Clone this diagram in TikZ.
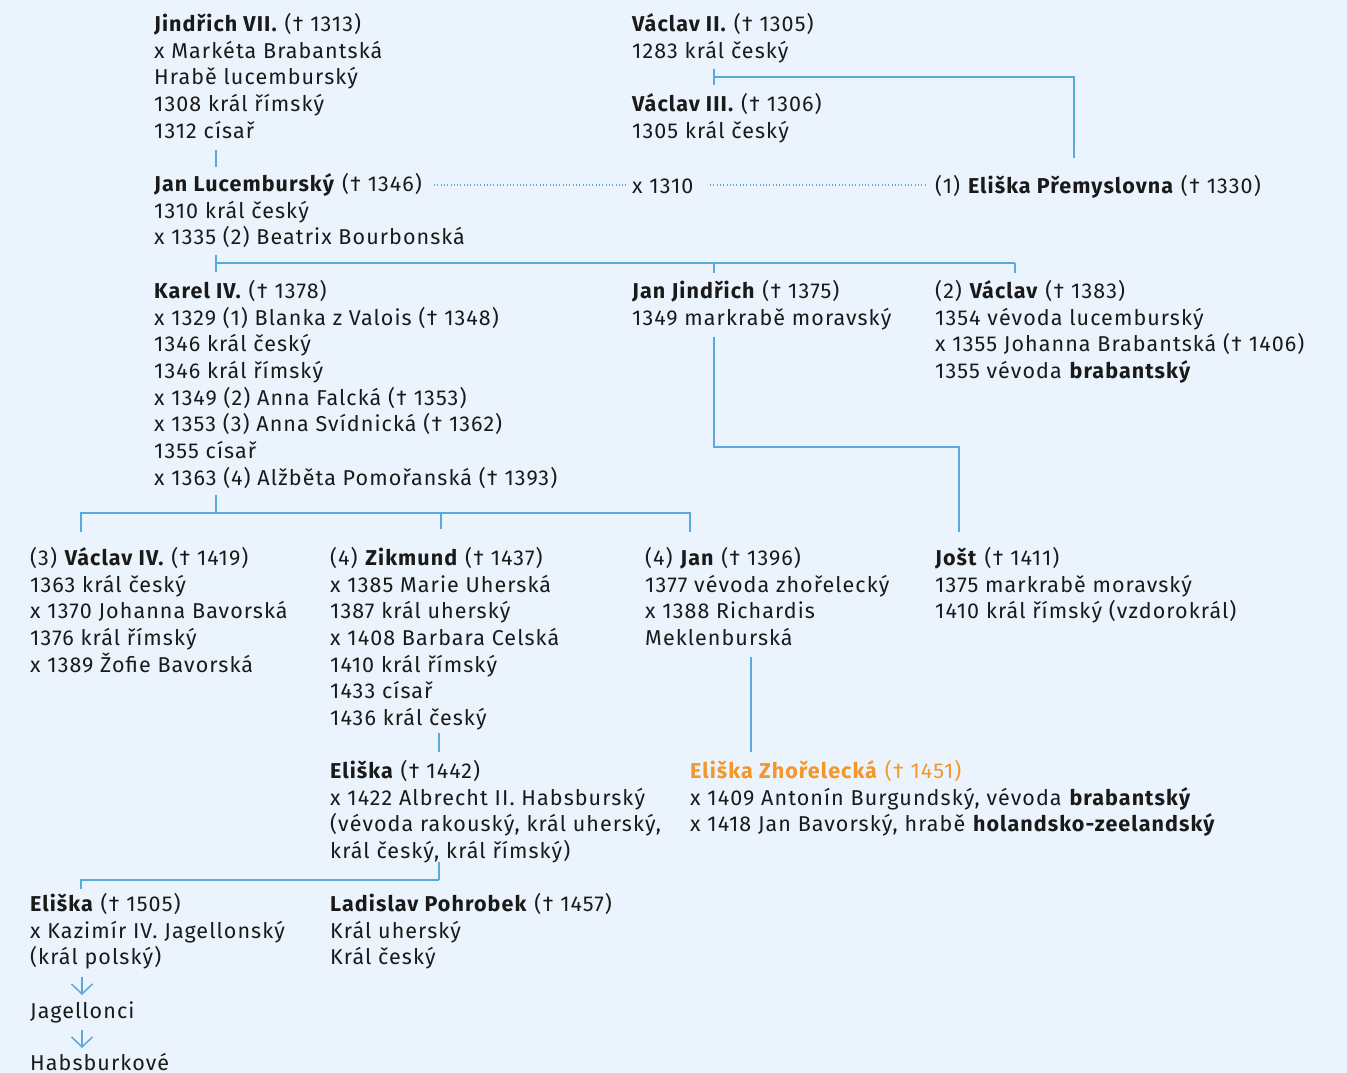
\documentclass[tikz,border=0pt]{standalone}
\usepackage{fontspec}
\setmainfont{Fira Sans}[LetterSpace=5]
\definecolor{bgc}{HTML}{EBF4FC}
\definecolor{linec}{HTML}{5BA8DB}
\definecolor{textc}{HTML}{1A1A1A}
\definecolor{orangec}{HTML}{F3962B}
\usetikzlibrary{arrows.meta}
\tikzset{
  txt/.style={anchor=north west, inner sep=0pt, align=left, text=textc,
    font=\fontsize{21.5}{26.7}\selectfont, execute at begin node={\rule{0pt}{20pt}}},
  conn/.style={draw=linec, line width=1.6pt},
  dots/.style={draw=linec, line width=1.1pt, dash pattern=on 0.9pt off 2.4pt},
  arr/.style={draw=linec, line width=1.5pt, -{Straight Barb[length=10pt,width=21pt]}},
}
\begin{document}
\begin{tikzpicture}[x=1pt,y=-1pt]
\fill[bgc] (0,0) rectangle (1347,1073);
\useasboundingbox (0,0) rectangle (1347,1073);

\node[txt] (jind) at (154,13) {\textbf{Jindřich VII.} († 1313)\\x Markéta Brabantská\\Hrabě lucemburský\\1308 král římský\\1312 císař};
\node[txt] (vac2) at (632,13) {\textbf{Václav II.} († 1305)\\1283 král český};
\node[txt] (vac3) at (632,93) {\textbf{Václav III.} († 1306)\\1305 král český};
\node[txt] (janl) at (154,173) {\textbf{Jan Lucemburský} († 1346)\\1310 král český\\x 1335 (2) Beatrix Bourbonská};
\node[txt] (x1310) at (632,173) {x 1310};
\node[txt] (elp) at (935,173) {(1) \textbf{Eliška Přemyslovna} († 1330)};
\node[txt] (karel) at (154,280) {\textbf{Karel IV.} († 1378)\\x 1329 (1) Blanka z Valois († 1348)\\1346 král český\\1346 král římský\\x 1349 (2) Anna Falcká († 1353)\\x 1353 (3) Anna Svídnická († 1362)\\1355 císař\\x 1363 (4) Alžběta Pomořanská († 1393)};
\node[txt] (janj) at (632,280) {\textbf{Jan Jindřich} († 1375)\\1349 markrabě moravský};
\node[txt] (vacl) at (935,280) {(2) \textbf{Václav} († 1383)\\1354 vévoda lucemburský\\x 1355 Johanna Brabantská († 1406)\\1355 vévoda \textbf{brabantský}};
\node[txt] (vac4) at (30,547) {(3) \textbf{Václav IV.} († 1419)\\1363 král český\\x 1370 Johanna Bavorská\\1376 král římský\\x 1389 Žofie Bavorská};
\node[txt] (zik) at (330,547) {(4) \textbf{Zikmund} († 1437)\\x 1385 Marie Uherská\\1387 král uherský\\x 1408 Barbara Celská\\1410 král římský\\1433 císař\\1436 král český};
\node[txt] (jan4) at (645,547) {(4) \textbf{Jan} († 1396)\\1377 vévoda zhořelecký\\x 1388 Richardis\\Meklenburská};
\node[txt] (jost) at (935,547) {\textbf{Jošt} († 1411)\\1375 markrabě moravský\\1410 král římský (vzdorokrál)};
\node[txt] (el42) at (330,760) {\textbf{Eliška} († 1442)\\x 1422 Albrecht II. Habsburský\\(vévoda rakouský, král uherský,\\král český, král římský)};
\node[txt] (elz) at (690,760) {\textcolor{orangec}{\textbf{Eliška Zhořelecká} († 1451)}\\x 1409 Antonín Burgundský, vévoda \textbf{brabantský}\\x 1418 Jan Bavorský, hrabě \textbf{holandsko-zeelandský}};
\node[txt] (el05) at (30,893) {\textbf{Eliška} († 1505)\\x Kazimír IV. Jagellonský\\(král polský)};
\node[txt] (lad) at (330,893) {\textbf{Ladislav Pohrobek} († 1457)\\Král uherský\\Král český};
\node[txt] (jag) at (30,998) {Jagellonci};
\node[txt] (hab) at (30,1050) {Habsburkové};

% connectors
\draw[conn] (216,150) -- (216,167);
\draw[conn] (714,69) -- (714,85);
\draw[conn] (714,77) -- (1074,77) -- (1074,158);
\draw[dots] (434,185) -- (626,185);
\draw[dots] (710,185) -- (927,185);
\draw[conn] (216,255) -- (216,272);
\draw[conn] (216,263) -- (1015,263);
\draw[conn] (714,263) -- (714,273);
\draw[conn] (1015,263) -- (1015,273);
\draw[conn] (714,337) -- (714,447) -- (959,447) -- (959,532);
\draw[conn] (216,495) -- (216,513);
\draw[conn] (81,532) -- (81,513) -- (690,513) -- (690,532);
\draw[conn] (441,513) -- (441,529);
\draw[conn] (439,733) -- (439,752);
\draw[conn] (751,657) -- (751,752);
\draw[conn] (439,862) -- (439,880);
\draw[conn] (81,889) -- (81,880) -- (439,880);
\draw[arr] (82,977) -- (82,995);
\draw[arr] (82,1030) -- (82,1048);
\end{tikzpicture}
\end{document}
